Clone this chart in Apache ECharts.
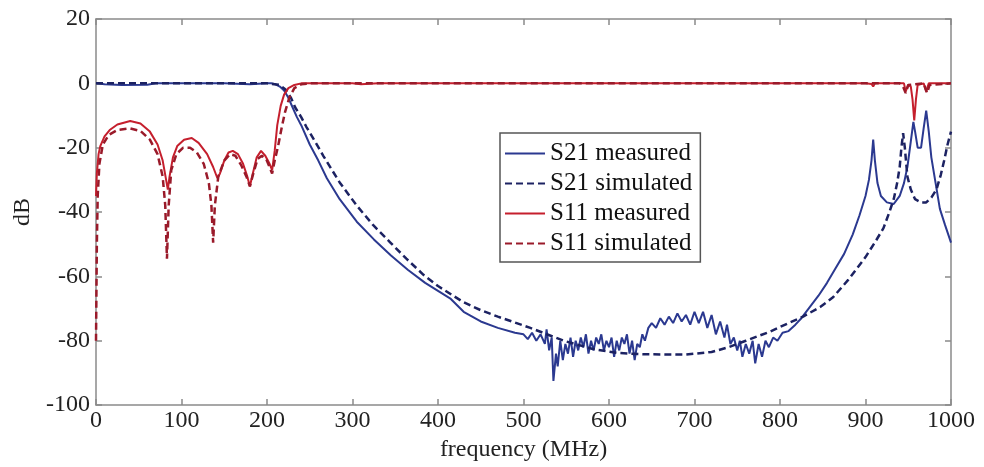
<!DOCTYPE html>
<html>
<head>
<meta charset="utf-8">
<script src="https://cdn.jsdelivr.net/npm/echarts@6/dist/echarts.min.js"></script>
<style>html,body{margin:0;padding:0;background:#fff}#c{width:984px;height:467px}</style>
</head>
<body>
<div id="c"></div>
<script>
// ---- data ----
const xTicks = [0,100,200,300,400,500,600,700,800,900,1000];
const yTicks = [-100,-80,-60,-40,-20,0,20];
const seriesNames = ['S21 measured','S21 simulated','S11 measured','S11 simulated'];

const s21MeasFreq = [0,10,30,60,70,150,180,200,205,210,215,220,225,230,235,240,250,260,270,285,305,325,345,365,385,400,415,430,450,470,490,
500,505,510,515,520,525,527,530,533,535,538,540,543,546,549,552,555,558,561,564,567,570,573,576,579,582,585,588,591,594,597,600,603,606,609,612,615,618,621,624,627,630,633,636,639,642,646,650,655,660,665,670,675,680,685,690,695,700,705,710,715,720,725,730,735,738,742,746,750,753,756,760,764,768,771,775,779,783,787,792,797,803,810,818,825,835,845,855,865,875,885,893,900,904,907,909,911,914,918,925,933,940,945,949,953,956,958,961,965,968,971,974,977,982,987,993,1000];
const s21MeasDb = [0,-0.3,-0.5,-0.4,0,0,-0.3,0,0,-0.3,-1,-2.2,-4.5,-7.5,-10.5,-13,-19,-24,-29.5,-36,-43,-48.5,-53.5,-58,-62,-64.5,-67,-71,-74,-76,-77.5,
-78,-79.5,-77.5,-80,-78,-81,-76.5,-83,-79,-92.5,-84,-88,-80,-86,-81,-84,-79,-85,-80,-83,-79,-82,-78,-84,-80,-83,-79,-81,-78,-83,-80,-82,-79,-85,-80,-83,-79,-81,-78,-84,-80,-86,-81,-82,-78,-80,-76,-74.5,-76,-73,-75,-72.5,-74.5,-71.5,-74,-72,-75,-71,-74.5,-71,-76,-72,-78,-74,-79,-75,-81,-79,-83,-80,-85,-81,-84,-80,-87,-81,-85,-80,-82,-79,-80,-77.5,-77,-75,-73,-69.5,-66,-62,-57.5,-53,-47,-41,-35,-30,-24,-17.5,-24,-31,-35,-37,-37.5,-35,-31,-26,-18,-12,-15,-20,-20,-14,-8.5,-15,-23,-31,-39,-44,-49.5];

const s21SimFreq = [0,200,215,222,228,233,240,246,256,266,285,305,324,344,363,383,400,429,450,470,508,547,580,610,640,690,720,740,760,788,810,827,847,862,880,900,912,921,928,933,937,940,942,944,946,949,953,958,965,971,977,983,988,992,996,1000];
const s21SimDb = [0,0,-0.5,-2,-4.5,-7.5,-10.5,-13.5,-18,-22.6,-30.8,-38,-44,-49.4,-54.5,-59.5,-63,-67.9,-70.5,-72.5,-76,-80,-82.5,-83.8,-84.2,-84.3,-83.5,-82,-80,-77.2,-74.5,-72.5,-69.5,-66.5,-61,-54,-49,-45,-40,-36,-31,-26,-20,-15.5,-20,-29,-33,-36,-37,-37,-35.5,-33,-28.5,-24,-19,-15];

const s11MeasFreq = [0,1,3,5,10,16,25,40,52,63,72,78,82,84,86,90,95,103,112,120,130,137,142,145,150,155,160,166,172,177,180,183,188,193,198,203,206,209,212,216,220,225,232,240,300,310,330,900,907,909,911,945,947,950,953,955,957,959,961,968,971,974,1000];
const s11MeasDb = [-35,-28,-22,-19.5,-16.5,-14.5,-12.8,-11.7,-12.5,-15,-19,-24,-30,-33,-29,-23,-19.5,-17.5,-17,-18.5,-22,-26,-29.5,-28,-24,-21.5,-21,-22,-25,-29,-32,-28.5,-23,-21,-22.5,-25,-27,-21,-13,-7,-3.5,-1.5,-0.5,0,0,-0.3,0,0,-0.2,-1,0,0,-2.5,-0.5,-1,-5,-11.5,-5,-0.5,0,-2.5,0,0];

const s11SimFreq = [0,1,2,4,8,15,25,40,52,63,72,78,81,83,85,88,94,102,110,118,126,132,135,137,139,143,150,157,163,170,176,180,184,189,194,199,203,206,209,213,217,221,226,232,240,250,940,944,947,950,968,972,975,1000];
const s11SimDb = [-80,-50,-35,-25,-19,-16,-14.5,-14,-14.8,-17.5,-22,-29,-38,-54.5,-38,-27,-22,-20,-20,-21.5,-25,-31,-38,-49.5,-38,-29,-24,-22,-22.5,-25.5,-29,-32,-28,-23.5,-22.5,-23.5,-26,-28,-24,-19.5,-14,-9,-4.5,-1.5,-0.3,0,0,-1,-3,-0.5,0,-3,-0.5,0];

// ---- chart ----
const pairs = (xs, ys) => xs.map((x, i) => [x, ys[i]]);
const font = 'Liberation Serif';
const axisCol = '#8a8a8a';

const baseX = {
  type: 'value', min: xTicks[0], max: xTicks[xTicks.length-1], interval: 100,
  splitLine: {show: false},
  axisLine: {show: true, onZero: false, lineStyle: {color: axisCol, width: 1.5}},
  axisTick: {show: true, inside: true, length: 6, lineStyle: {color: axisCol, width: 1.5}}
};
const baseY = {
  type: 'value', min: yTicks[0], max: yTicks[yTicks.length-1], interval: 20,
  splitLine: {show: false},
  axisLine: {show: true, onZero: false, lineStyle: {color: axisCol, width: 1.5}},
  axisTick: {show: true, inside: true, length: 6, lineStyle: {color: axisCol, width: 1.5}}
};

const chart = echarts.init(document.getElementById('c'), null, {renderer: 'canvas'});
chart.setOption({
  animation: false,
  backgroundColor: '#ffffff',
  grid: {left: 96, right: 33, top: 19, bottom: 60, containLabel: false},
  xAxis: [
    Object.assign({}, baseX, {
      position: 'bottom',
      name: 'frequency (MHz)', nameLocation: 'middle', nameGap: 31,
      nameTextStyle: {fontFamily: font, fontSize: 24, color: '#222'},
      axisLabel: {show: true, margin: 4, fontFamily: font, fontSize: 24, color: '#222',
                  formatter: v => String(v)}
    }),
    Object.assign({}, baseX, {position: 'top', axisLabel: {show: false}})
  ],
  yAxis: [
    Object.assign({}, baseY, {
      position: 'left',
      name: 'dB', nameLocation: 'middle', nameGap: 56, nameRotate: 90,
      nameTextStyle: {fontFamily: font, fontSize: 24, color: '#222'},
      axisLabel: {show: true, margin: 6, fontFamily: font, fontSize: 24, color: '#222',
                  formatter: v => String(v)}
    }),
    Object.assign({}, baseY, {position: 'right', axisLabel: {show: false}})
  ],
  legend: {
    orient: 'vertical', left: 500, top: 133,
    itemWidth: 40, itemHeight: 14, itemGap: 5,
    padding: [8, 8, 6, 4],
    borderColor: '#555', borderWidth: 1.5, backgroundColor: '#fff',
    itemStyle: {opacity: 0},
    textStyle: {fontFamily: font, fontSize: 25, color: '#111'},
    data: seriesNames
  },
  series: [
    {name: seriesNames[0], type: 'line', symbol: 'none', data: pairs(s21MeasFreq, s21MeasDb),
     color: '#2b3990', lineStyle: {color: '#2b3990', width: 2}},
    {name: seriesNames[1], type: 'line', symbol: 'none', data: pairs(s21SimFreq, s21SimDb),
     color: '#1c2262', lineStyle: {color: '#1c2262', width: 2.5, type: [7, 4]}},
    {name: seriesNames[2], type: 'line', symbol: 'none', data: pairs(s11MeasFreq, s11MeasDb),
     color: '#c51f2d', lineStyle: {color: '#c51f2d', width: 2}},
    {name: seriesNames[3], type: 'line', symbol: 'none', data: pairs(s11SimFreq, s11SimDb),
     color: '#9a1a2a', lineStyle: {color: '#9a1a2a', width: 2.5, type: [7, 4]}}
  ]
});
</script>
</body>
</html>
